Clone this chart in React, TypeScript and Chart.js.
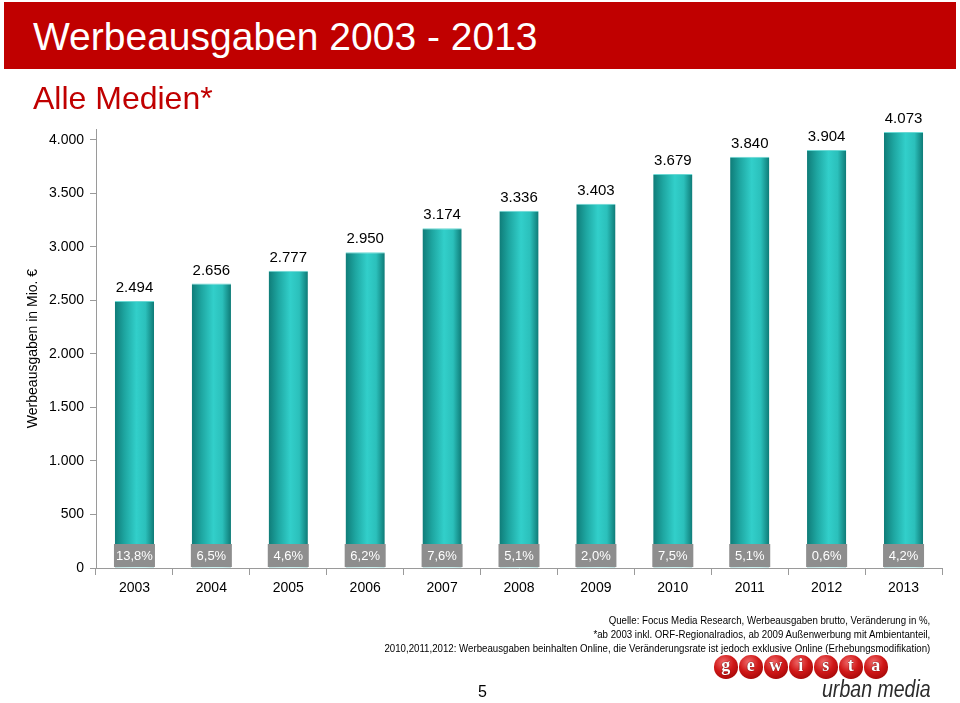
import React, { useEffect, useRef } from "react";
import { Chart, registerables } from "chart.js";

Chart.register(...registerables);

const years = ["2003", "2004", "2005", "2006", "2007", "2008", "2009", "2010", "2011", "2012", "2013"];
const spending = [2494, 2656, 2777, 2950, 3174, 3336, 3403, 3679, 3840, 3904, 4073];
const changePct = [13.8, 6.5, 4.6, 6.2, 7.6, 5.1, 2.0, 7.5, 5.1, 0.6, 4.2];
const yTickValues = [0, 500, 1000, 1500, 2000, 2500, 3000, 3500, 4000];
const yMax = 4100;

const SANS = "'Liberation Sans', Arial, sans-serif";

const fmtThousands = (v: number) => {
  const s = Math.round(v).toString();
  return s.replace(/\B(?=(\d{3})+(?!\d))/g, ".");
};
const fmtPct = (v: number) => v.toFixed(1).replace(".", ",") + "%";

const BAR_PCT = 0.51;

const labelPlugin = {
  id: "barLabels",
  afterDatasetsDraw(chart: any) {
    const { ctx, chartArea } = chart;
    const meta = chart.getDatasetMeta(0);
    ctx.save();
    meta.data.forEach((bar: any, i: number) => {
      const x = bar.x;
      ctx.fillStyle = "#000";
      ctx.font = `15px ${SANS}`;
      ctx.textAlign = "center";
      ctx.textBaseline = "alphabetic";
      ctx.fillText(fmtThousands(spending[i]), x, bar.y - 9);
      const bw = 41;
      const bh = 23;
      const by = chartArea.bottom - bh - 1;
      ctx.fillStyle = "#8e8e8e";
      ctx.fillRect(x - bw / 2, by, bw, bh);
      ctx.fillStyle = "#ffffff";
      ctx.font = `13px ${SANS}`;
      ctx.textBaseline = "middle";
      ctx.fillText(fmtPct(changePct[i]), x, by + bh / 2 + 1);
    });
    ctx.restore();
  },
};

function barGradient(c: any) {
  const chart = c.chart;
  const area = chart.chartArea;
  if (!area || !chart.scales.x) return "#26b8b3";
  const xs = chart.scales.x;
  const cx = xs.getPixelForValue(c.dataIndex);
  const w = ((area.right - area.left) / years.length) * BAR_PCT;
  const g = chart.ctx.createLinearGradient(cx - w / 2, 0, cx + w / 2, 0);
  g.addColorStop(0, "#0f7c78");
  g.addColorStop(0.25, "#1ea6a1");
  g.addColorStop(0.55, "#32cfca");
  g.addColorStop(0.78, "#2bc0bb");
  g.addColorStop(1, "#0e7a76");
  return g;
}

export default function App() {
  const ref = useRef<HTMLCanvasElement | null>(null);

  useEffect(() => {
    if (!ref.current) return;
    const chart = new Chart(ref.current, {
      type: "bar",
      data: {
        labels: years,
        datasets: [
          {
            data: spending,
            backgroundColor: barGradient,
            borderColor: "#6ad8d3",
            borderWidth: { top: 1, left: 0, right: 0, bottom: 0 },
            borderSkipped: "bottom",
            barPercentage: BAR_PCT,
            categoryPercentage: 1,
          },
        ],
      },
      options: {
        responsive: false,
        animation: false,
        devicePixelRatio: 1,
        layout: { padding: { left: 21, right: 18, top: 129, bottom: 0 } },
        plugins: { legend: { display: false }, tooltip: { enabled: false }, title: { display: false } },
        scales: {
          x: {
            grid: {
              display: true,
              drawOnChartArea: false,
              drawTicks: true,
              tickLength: 7,
              color: "#9a9a9a",
              offset: true,
            },
            border: { display: true, color: "#9a9a9a", width: 1 },
            ticks: { color: "#000", font: { family: SANS, size: 14 }, padding: 5 },
            afterFit: (s: any) => {
              s.height = 135;
            },
          },
          y: {
            min: 0,
            max: yMax,
            grid: {
              display: true,
              drawOnChartArea: false,
              drawTicks: true,
              tickLength: 6,
              color: "#9a9a9a",
            },
            border: { display: true, color: "#9a9a9a", width: 1 },
            ticks: {
              autoSkip: false,
              color: "#000",
              font: { family: SANS, size: 14 },
              padding: 6,
              callback: (v: any) => fmtThousands(Number(v)),
            },
            afterBuildTicks: (s: any) => {
              s.ticks = yTickValues.map((v) => ({ value: v }));
            },
            title: {
              display: true,
              text: "Werbeausgaben in Mio. €",
              color: "#000",
              font: { family: SANS, size: 14 },
            },
            afterFit: (s: any) => {
              s.width = 75;
            },
          },
        },
      },
      plugins: [labelPlugin],
    });
    return () => chart.destroy();
  }, []);

  const logoLetters = ["g", "e", "w", "i", "s", "t", "a"];

  return (
    <div style={{ position: "relative", width: 960, height: 703, overflow: "hidden", background: "#fff" }}>
      <style>{`body{margin:0}`}</style>
      <canvas ref={ref} width={960} height={703} style={{ position: "absolute", left: 0, top: 0, display: "block" }} />
      <div
        style={{
          position: "absolute",
          left: 4,
          top: 2,
          width: 952,
          height: 67,
          background: "#c00000",
        }}
      />
      <div
        style={{
          position: "absolute",
          left: 33,
          top: 17,
          fontFamily: SANS,
          fontSize: 39,
          lineHeight: "39px",
          color: "#fff",
          whiteSpace: "nowrap",
        }}
      >
        Werbeausgaben 2003 - 2013
      </div>
      <div
        style={{
          position: "absolute",
          left: 33,
          top: 82,
          fontFamily: SANS,
          fontSize: 32,
          lineHeight: "32px",
          color: "#c00000",
          whiteSpace: "nowrap",
        }}
      >
        Alle Medien*
      </div>
      <div
        style={{
          position: "absolute",
          right: 30,
          top: 613,
          fontFamily: SANS,
          fontSize: 11,
          lineHeight: "14px",
          color: "#000",
          textAlign: "right",
          whiteSpace: "nowrap",
          transform: "scaleX(0.88)",
          transformOrigin: "right top",
        }}
      >
        <div>Quelle: Focus Media Research, Werbeausgaben brutto, Veränderung in %,</div>
        <div>*ab 2003 inkl. ORF-Regionalradios, ab 2009 Außenwerbung mit Ambientanteil,</div>
        <div>2010,2011,2012: Werbeausgaben beinhalten Online, die Veränderungsrate ist jedoch exklusive Online (Erhebungsmodifikation)</div>
      </div>
      <div
        style={{
          position: "absolute",
          left: 478,
          top: 684,
          fontFamily: SANS,
          fontSize: 16,
          lineHeight: "16px",
          color: "#000",
        }}
      >
        5
      </div>
      <div style={{ position: "absolute", left: 714, top: 655, display: "flex", gap: 1.5 }}>
        {logoLetters.map((l, i) => (
          <div
            key={i}
            style={{
              width: 23.5,
              height: 23.5,
              borderRadius: "50%",
              background: "radial-gradient(circle at 40% 30%, #f06a6a 0%, #d01818 45%, #8f0000 100%)",
              color: "#fff",
              fontFamily: "'Liberation Serif', serif",
              fontWeight: "bold",
              fontSize: 18,
              lineHeight: "21px",
              textAlign: "center",
              textShadow: "0 0 1px #600, 0 0 1px #600",
            }}
          >
            {l}
          </div>
        ))}
      </div>
      <div
        style={{
          position: "absolute",
          left: 822,
          top: 677,
          fontFamily: SANS,
          fontStyle: "italic",
          fontSize: 23,
          lineHeight: "24px",
          color: "#2b2b2b",
          whiteSpace: "nowrap",
          transform: "scaleX(0.85)",
          transformOrigin: "left top",
        }}
      >
        urban media
      </div>
    </div>
  );
}
